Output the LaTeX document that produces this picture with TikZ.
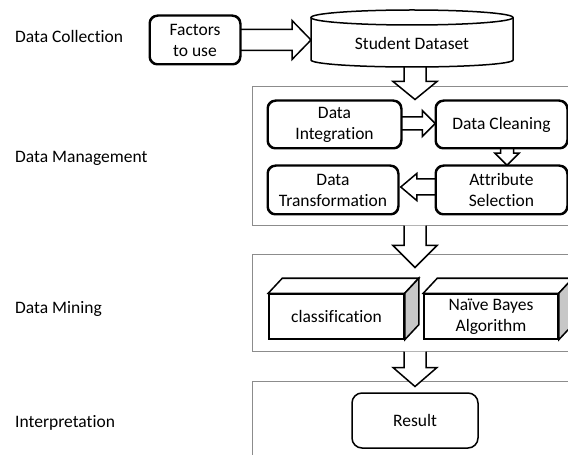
\documentclass[tikz,border=0pt]{standalone}
\usepackage{fontspec}
\setmainfont{Carlito}[RawFeature={-liga;-clig;-calt;-dlig}]
\usetikzlibrary{calc}

\newcommand\diagfont{\fontsize{17.5bp}{21bp}\selectfont}

% hollow block arrows: tail point, tip point, shaft half-width, head half-width, head length
\newcommand\arrowRight[5]{%
  \draw[fatarrow] let \p1=(#1), \p2=(#2) in
    (\x1,\y2+#3) -- (\x2-#5,\y2+#3) -- (\x2-#5,\y2+#4) -- (\x2,\y2)
    -- (\x2-#5,\y2-#4) -- (\x2-#5,\y2-#3) -- (\x1,\y2-#3);}
\newcommand\arrowLeft[5]{%
  \draw[fatarrow] let \p1=(#1), \p2=(#2) in
    (\x1,\y2+#3) -- (\x2+#5,\y2+#3) -- (\x2+#5,\y2+#4) -- (\x2,\y2)
    -- (\x2+#5,\y2-#4) -- (\x2+#5,\y2-#3) -- (\x1,\y2-#3);}
\newcommand\arrowDown[5]{%
  \draw[fatarrow] let \p1=(#1), \p2=(#2) in
    (\x2-#3,\y1) -- (\x2-#3,\y2+#5) -- (\x2-#4,\y2+#5) -- (\x2,\y2)
    -- (\x2+#4,\y2+#5) -- (\x2+#3,\y2+#5) -- (\x2+#3,\y1);}

\tikzset{
  stage/.style={font=\diagfont, anchor=base west, inner sep=0pt},
  panel/.style={draw=black!45, line width=1bp, fill=white, inner sep=0pt},
  rbox/.style={draw=black, line width=1.5bp, rounded corners=8bp, fill=white,
    align=center, inner sep=0pt, font=\diagfont},
  cubefront/.style={draw=black, line width=1.5bp, fill=white, line join=miter,
    align=center, inner sep=0pt, font=\diagfont,
    minimum width=135bp, minimum height=45bp},
  cubeline/.style={draw=black, line width=1.5bp, line join=miter},
  fatarrow/.style={draw=black, line width=1.5bp, fill=white, line join=miter},
}

\begin{document}
\begin{tikzpicture}[x=1bp, y=-1bp]
\useasboundingbox (0,0) rectangle (568,455);
\clip (0,0) rectangle (568,455);
\fill[white] (0,0) rectangle (568,455);

% stage names
\node[stage] (lcol) at (15,43) {Data Collection};
\node[stage] (lman) at (15,163) {Data Management};
\node[stage] (lmin) at (15,313) {Data Mining};
\node[stage] (lint) at (15,427) {Interpretation};

% stage panels (running off the right / bottom edge)
\node[panel, minimum width=368bp, minimum height=138bp] (pm) at (436,156) {};
\node[panel, minimum width=368bp, minimum height=96bp] (ps) at (436,303) {};
\node[panel, minimum width=368bp, minimum height=130bp] (pi) at (436,446) {};

% centre of the dataset cylinder
\coordinate (dbc) at (412,43);

% nodes
\node[rbox, minimum width=90bp, minimum height=48bp] (fac) at (195,40) {Factors\\to use};

\node[rbox, minimum width=133bp, minimum height=47bp] (integ) at (334.5,124.5) {Data\\Integration};
\node[rbox, minimum width=131bp, minimum height=47bp] (clean) at (501.5,124.5) {Data Cleaning};
\node[rbox, minimum width=130bp, minimum height=48bp] (trans) at (333,190) {Data\\Transformation};
\node[rbox, minimum width=131bp, minimum height=48bp] (attr) at (501.5,190) {Attribute\\Selection};

\node[cubefront] (cls) at (336.5,316.5) {classification};
\node[cubefront, minimum width=134bp] (nb) at (491,316.5) {Naïve Bayes\\Algorithm};

\node[rbox, rounded corners=10bp, minimum width=126bp, minimum height=55bp] (res) at (415,420.5) {Result};

% axis of the vertical flow arrows
\coordinate (axis) at (415,0);
\coordinate (t1) at ($(pm.north -| axis)+(0,13)$);
\coordinate (t2) at ($(ps.north -| axis)+(0,13)$);
\coordinate (t3) at ($(pi.north -| axis)+(0,6)$);

% block arrows
\arrowRight{fac.east}{$(dbc)+(-101,-3)$}{10.5bp}{19.5bp}{19bp}
\arrowDown{$(dbc)+(0,23)$}{t1}{11bp}{22bp}{18bp}
\arrowRight{integ.east}{$(clean.west)+(0,-1)$}{6.5bp}{13bp}{13bp}
\arrowDown{clean.south}{$(attr.north)+(5.5,0)$}{6.5bp}{12bp}{12bp}
\arrowLeft{attr.west}{$(trans.east)+(2,-3)$}{8bp}{13.5bp}{16bp}
\arrowDown{pm.south -| axis}{t2}{11bp}{22bp}{22bp}
\arrowDown{ps.south -| axis}{t3}{11bp}{22bp}{19bp}

% dataset cylinder and its label
\draw[line width=1.5bp, fill=white]
  ($(dbc)+(-101,-25.5)$) -- ($(dbc)+(-101,17)$)
  arc[start angle=180, end angle=0, x radius=101, y radius=7]
  -- ($(dbc)+(101,-25.5)$);
\draw[line width=1.5bp, fill=white] ($(dbc)+(0,-25.5)$) ellipse [x radius=101, y radius=7.5];
\node[font=\diagfont, inner sep=0pt] (cyl) at (dbc) {Student Dataset};

% box outlines drawn again over the arrow tails
\foreach \n in {fac,integ,clean,trans,attr}{
  \draw[line width=1.5bp, rounded corners=8bp] (\n.north west) rectangle (\n.south east);
}

% cuboid faces
\foreach \n in {cls,nb}{
  \draw[cubeline, fill=white] (\n.north west) -- ++(14,-15)
    -- ($(\n.north east)+(14,-15)$) -- (\n.north east) -- cycle;
  \draw[cubeline, fill=black!22] (\n.north east) -- ++(14,-15)
    -- ($(\n.south east)+(14,-15)$) -- (\n.south east) -- cycle;
}
\end{tikzpicture}
\end{document}
